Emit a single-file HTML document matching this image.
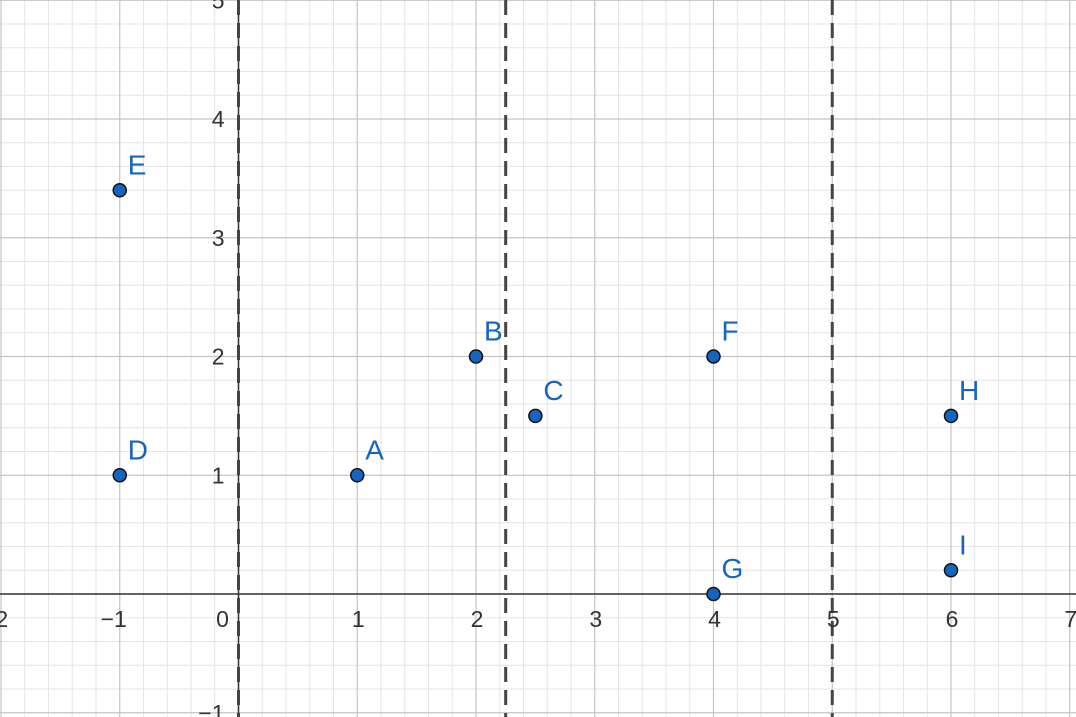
<!DOCTYPE html>
<html><head><meta charset="utf-8"><style>
html,body{margin:0;padding:0;background:#fff;width:1076px;height:717px;overflow:hidden;}
svg{display:block;font-family:"Liberation Sans",sans-serif;}
</style></head><body>
<svg id="chart" width="1076" height="717" viewBox="0 0 1076 717"></svg>
<script>
const pointNames = ["A","B","C","D","E","F","G","H","I"];
const pointX = [1,2,2.5,-1,-1,4,4,6,6];
const pointY = [1,2,1.5,1,3.4,2,0,1.5,0.2];
const dashedX = [0,2.25,5];
const xTicks = [-2,-1,0,1,2,3,4,5,6,7];
const yTicks = [-1,1,2,3,4,5];

const U = 118.75, X0 = 238.5, Y0 = 594;
const sx = x => X0 + x*U, sy = y => Y0 - y*U;
const svg = document.getElementById('chart');
const NS = 'http://www.w3.org/2000/svg';
function mk(t, a, p){const e=document.createElementNS(NS,t);for(const k in a)e.setAttribute(k,a[k]);(p||svg).appendChild(e);return e;}

const grid = mk('g',{});


for(let i=-15;i<=40;i++){const x=sx(i/5); if(i%5) mk('line',{x1:x,x2:x,y1:0,y2:717,stroke:'#e6e6e6','stroke-width':1},grid);}
for(let i=-10;i<=30;i++){const y=sy(i/5); if(i%5) mk('line',{x1:0,x2:1076,y1:y,y2:y,stroke:'#e6e6e6','stroke-width':1},grid);}
for(let i=-3;i<=8;i++){const x=sx(i); mk('line',{x1:x,x2:x,y1:0,y2:717,stroke:'#c4c4c4','stroke-width':1.2},grid);}
for(let i=-2;i<=6;i++){const y=sy(i); mk('line',{x1:0,x2:1076,y1:y,y2:y,stroke:'#c4c4c4','stroke-width':1.2},grid);}

const xa = mk('line',{x1:0,x2:1076,y1:Y0,y2:Y0,stroke:'#333','stroke-width':1.5});


const ya = mk('line',{x1:X0,x2:X0,y1:0,y2:717,stroke:'#333','stroke-width':1.5});



dashedX.forEach((d,i)=>{
  const l = mk('line',{x1:sx(d),x2:sx(d),y1:0,y2:717,stroke:'#444','stroke-width':3,'stroke-dasharray':'15,8'});
  
  
});

xTicks.forEach(v=>{
  const t = mk('text',{x:v===0?sx(0)-16:sx(v)+(v<0?-6:1),y:Y0+33,'font-size':23,fill:'#333','text-anchor':'middle'});
  t.textContent = v<0 ? '\u2212'+(-v) : String(v);
  
  
});
yTicks.forEach(v=>{
  const t = mk('text',{x:X0-14,y:sy(v)+8,'font-size':23,fill:'#333','text-anchor':'end'});
  t.textContent = v<0 ? '\u2212'+(-v) : String(v);
  
  
});

pointNames.forEach((n,i)=>{
  const c = mk('circle',{cx:sx(pointX[i]),cy:sy(pointY[i]),r:6.5,fill:'#1565c0',stroke:'#111','stroke-width':1.5});
  
  
  const t = mk('text',{x:sx(pointX[i])+8,y:sy(pointY[i])-16,'font-size':28,fill:'#1565c0'});
  t.textContent = n;
  
  
});
</script>
</body></html>
